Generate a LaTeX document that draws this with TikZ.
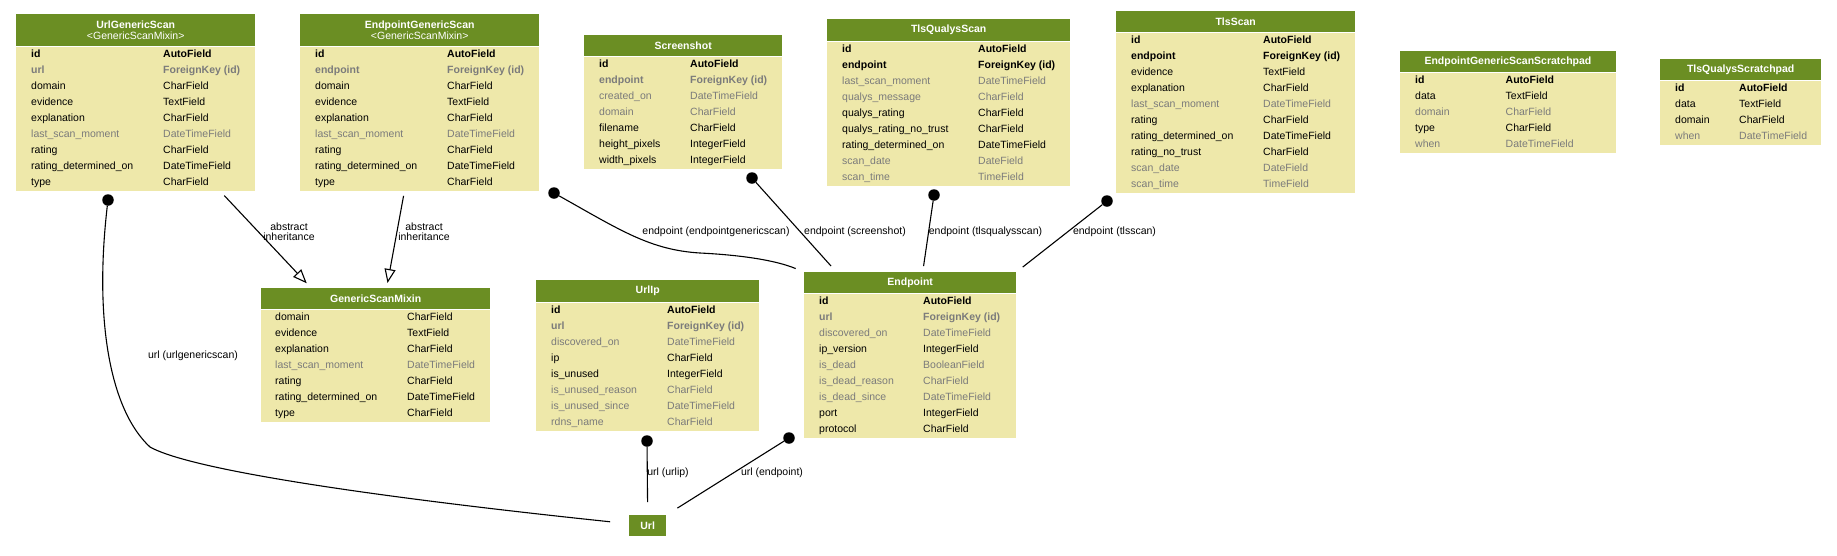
\documentclass[tikz,border=0pt]{standalone}
\usepackage{fontspec}
\setmainfont{Liberation Sans}
\usetikzlibrary{arrows.meta}
\definecolor{hdrgreen}{HTML}{6B8E23}
\definecolor{bodyyellow}{HTML}{EEE8AA}
\definecolor{fieldgrey}{HTML}{7B7B7B}
\begin{document}
\fontsize{10.5}{10.2}\selectfont
\begin{tikzpicture}[x=1pt,y=-1pt]
        \tikzstyle{hdr}=[anchor=north west,inner sep=0pt,fill=hdrgreen,text=white,font=\bfseries]
        \tikzstyle{tbl}=[anchor=north west,inner sep=0pt,fill=bodyyellow]
        \tikzstyle{fld}=[anchor=base west,inner sep=0pt]
        \tikzstyle{fnorm}=[fld]
        \tikzstyle{fbold}=[fld,font=\bfseries]
        \tikzstyle{fgrey}=[fld,text=fieldgrey]
        \tikzstyle{fboldgrey}=[fld,text=fieldgrey,font=\bfseries]
        \tikzstyle{dot}=[circle,fill=black,inner sep=0pt,minimum size=11.5pt]
        \tikzstyle{edge}=[draw,line width=1.1pt]
        \tikzstyle{inherit}=[draw,line width=1.1pt,-{Triangle[open,length=14pt,width=11pt]}]
        \tikzstyle{lbl}=[inner sep=0pt,align=center]
        \useasboundingbox[fill=white] (0,0) rectangle (1837,555);

        % UrlGenericScan
        \node[hdr,align=center,minimum width=239pt,minimum height=32pt] (urlgenericscan) at (16,14) {UrlGenericScan\\\mdseries<GenericScanMixin>};
        \node[tbl,minimum width=239pt,minimum height=144pt] (urlgenericscan-body) at (urlgenericscan.south west) {};
        \begin{scope}[shift={(urlgenericscan-body.north west)}]
          \foreach \f/\t/\s [count=\i from 0] in {id/AutoField/fbold, url/ForeignKey (id)/fboldgrey, domain/CharField/fnorm, evidence/TextField/fnorm, explanation/CharField/fnorm, last\_scan\_moment/DateTimeField/fgrey, rating/CharField/fnorm, rating\_determined\_on/DateTimeField/fnorm, type/CharField/fnorm}{
            \node[\s] (urlgenericscan-f\i) at (15,11.3+16*\i) {\f};
            \node[\s] (urlgenericscan-t\i) at (147,11.3+16*\i) {\t};
          }
        \end{scope}

        % EndpointGenericScan
        \node[hdr,align=center,minimum width=239pt,minimum height=32pt] (endpointgenericscan) at (300,14) {EndpointGenericScan\\\mdseries<GenericScanMixin>};
        \node[tbl,minimum width=239pt,minimum height=144pt] (endpointgenericscan-body) at (endpointgenericscan.south west) {};
        \begin{scope}[shift={(endpointgenericscan-body.north west)}]
          \foreach \f/\t/\s [count=\i from 0] in {id/AutoField/fbold, endpoint/ForeignKey (id)/fboldgrey, domain/CharField/fnorm, evidence/TextField/fnorm, explanation/CharField/fnorm, last\_scan\_moment/DateTimeField/fgrey, rating/CharField/fnorm, rating\_determined\_on/DateTimeField/fnorm, type/CharField/fnorm}{
            \node[\s] (endpointgenericscan-f\i) at (15,11.3+16*\i) {\f};
            \node[\s] (endpointgenericscan-t\i) at (147,11.3+16*\i) {\t};
          }
        \end{scope}

        % Screenshot
        \node[hdr,minimum width=198pt,minimum height=21pt] (screenshot) at (584,35) {Screenshot};
        \node[tbl,minimum width=198pt,minimum height=112pt] (screenshot-body) at (screenshot.south west) {};
        \begin{scope}[shift={(screenshot-body.north west)}]
          \foreach \f/\t/\s [count=\i from 0] in {id/AutoField/fbold, endpoint/ForeignKey (id)/fboldgrey, created\_on/DateTimeField/fgrey, domain/CharField/fgrey, filename/CharField/fnorm, height\_pixels/IntegerField/fnorm, width\_pixels/IntegerField/fnorm}{
            \node[\s] (screenshot-f\i) at (15,11.3+16*\i) {\f};
            \node[\s] (screenshot-t\i) at (106,11.3+16*\i) {\t};
          }
        \end{scope}

        % TlsQualysScan
        \node[hdr,minimum width=243pt,minimum height=22pt] (tlsqualysscan) at (827,19) {TlsQualysScan};
        \node[tbl,minimum width=243pt,minimum height=144pt] (tlsqualysscan-body) at (tlsqualysscan.south west) {};
        \begin{scope}[shift={(tlsqualysscan-body.north west)}]
          \foreach \f/\t/\s [count=\i from 0] in {id/AutoField/fbold, endpoint/ForeignKey (id)/fbold, last\_scan\_moment/DateTimeField/fgrey, qualys\_message/CharField/fgrey, qualys\_rating/CharField/fnorm, qualys\_rating\_no\_trust/CharField/fnorm, rating\_determined\_on/DateTimeField/fnorm, scan\_date/DateField/fgrey, scan\_time/TimeField/fgrey}{
            \node[\s] (tlsqualysscan-f\i) at (15,11.3+16*\i) {\f};
            \node[\s] (tlsqualysscan-t\i) at (151,11.3+16*\i) {\t};
          }
        \end{scope}

        % TlsScan
        \node[hdr,minimum width=239pt,minimum height=21pt] (tlsscan) at (1116,11) {TlsScan};
        \node[tbl,minimum width=239pt,minimum height=160pt] (tlsscan-body) at (tlsscan.south west) {};
        \begin{scope}[shift={(tlsscan-body.north west)}]
          \foreach \f/\t/\s [count=\i from 0] in {id/AutoField/fbold, endpoint/ForeignKey (id)/fbold, evidence/TextField/fnorm, explanation/CharField/fnorm, last\_scan\_moment/DateTimeField/fgrey, rating/CharField/fnorm, rating\_determined\_on/DateTimeField/fnorm, rating\_no\_trust/CharField/fnorm, scan\_date/DateField/fgrey, scan\_time/TimeField/fgrey}{
            \node[\s] (tlsscan-f\i) at (15,11.3+16*\i) {\f};
            \node[\s] (tlsscan-t\i) at (147,11.3+16*\i) {\t};
          }
        \end{scope}

        % EndpointGenericScanScratchpad
        \node[hdr,minimum width=215.5pt,minimum height=21pt] (scratchpad) at (1400,51) {EndpointGenericScanScratchpad};
        \node[tbl,minimum width=215.5pt,minimum height=80pt] (scratchpad-body) at (scratchpad.south west) {};
        \begin{scope}[shift={(scratchpad-body.north west)}]
          \foreach \f/\t/\s [count=\i from 0] in {id/AutoField/fbold, data/TextField/fnorm, domain/CharField/fgrey, type/CharField/fnorm, when/DateTimeField/fgrey}{
            \node[\s] (scratchpad-f\i) at (15,11.3+16*\i) {\f};
            \node[\s] (scratchpad-t\i) at (105.5,11.3+16*\i) {\t};
          }
        \end{scope}

        % TlsQualysScratchpad
        \node[hdr,minimum width=161pt,minimum height=21pt] (qualyspad) at (1660,59) {TlsQualysScratchpad};
        \node[tbl,minimum width=161pt,minimum height=64pt] (qualyspad-body) at (qualyspad.south west) {};
        \begin{scope}[shift={(qualyspad-body.north west)}]
          \foreach \f/\t/\s [count=\i from 0] in {id/AutoField/fbold, data/TextField/fnorm, domain/CharField/fnorm, when/DateTimeField/fgrey}{
            \node[\s] (qualyspad-f\i) at (15,11.3+16*\i) {\f};
            \node[\s] (qualyspad-t\i) at (79,11.3+16*\i) {\t};
          }
        \end{scope}

        % GenericScanMixin
        \node[hdr,minimum width=229pt,minimum height=21pt] (genericscanmixin) at (261,288) {GenericScanMixin};
        \node[tbl,minimum width=229pt,minimum height=112pt] (genericscanmixin-body) at (genericscanmixin.south west) {};
        \begin{scope}[shift={(genericscanmixin-body.north west)}]
          \foreach \f/\t/\s [count=\i from 0] in {domain/CharField/fnorm, evidence/TextField/fnorm, explanation/CharField/fnorm, last\_scan\_moment/DateTimeField/fgrey, rating/CharField/fnorm, rating\_determined\_on/DateTimeField/fnorm, type/CharField/fnorm}{
            \node[\s] (genericscanmixin-f\i) at (14,11.3+16*\i) {\f};
            \node[\s] (genericscanmixin-t\i) at (146,11.3+16*\i) {\t};
          }
        \end{scope}

        % UrlIp
        \node[hdr,minimum width=223pt,minimum height=22pt] (urlip) at (536,280) {UrlIp};
        \node[tbl,minimum width=223pt,minimum height=128pt] (urlip-body) at (urlip.south west) {};
        \begin{scope}[shift={(urlip-body.north west)}]
          \foreach \f/\t/\s [count=\i from 0] in {id/AutoField/fbold, url/ForeignKey (id)/fboldgrey, discovered\_on/DateTimeField/fgrey, ip/CharField/fnorm, is\_unused/IntegerField/fnorm, is\_unused\_reason/CharField/fgrey, is\_unused\_since/DateTimeField/fgrey, rdns\_name/CharField/fgrey}{
            \node[\s] (urlip-f\i) at (15,11.3+16*\i) {\f};
            \node[\s] (urlip-t\i) at (131,11.3+16*\i) {\t};
          }
        \end{scope}

        % Endpoint
        \node[hdr,minimum width=212pt,minimum height=21pt] (endpoint) at (804,272) {Endpoint};
        \node[tbl,minimum width=212pt,minimum height=144pt] (endpoint-body) at (endpoint.south west) {};
        \begin{scope}[shift={(endpoint-body.north west)}]
          \foreach \f/\t/\s [count=\i from 0] in {id/AutoField/fbold, url/ForeignKey (id)/fboldgrey, discovered\_on/DateTimeField/fgrey, ip\_version/IntegerField/fnorm, is\_dead/BooleanField/fgrey, is\_dead\_reason/CharField/fgrey, is\_dead\_since/DateTimeField/fgrey, port/IntegerField/fnorm, protocol/CharField/fnorm}{
            \node[\s] (endpoint-f\i) at (15,11.3+16*\i) {\f};
            \node[\s] (endpoint-t\i) at (119,11.3+16*\i) {\t};
          }
        \end{scope}

        % Url
        \node[hdr,minimum width=37pt,minimum height=21pt] (url) at (629,515) {Url};

        % tails
        \node[dot] (d-ugs) at (108,200) {};
        \node[dot] (d-egs) at (554,193) {};
        \node[dot] (d-shot) at (752,178) {};
        \node[dot] (d-tqs) at (934,195) {};
        \node[dot] (d-tls) at (1107,201) {};
        \node[dot] (d-urlip) at (647,441) {};
        \node[dot] (d-ep) at (789,438) {};

        \path[inherit,shorten <=6.5pt,shorten >=6.5pt] ([xshift=203.8pt]urlgenericscan-body.south west) -- ([xshift=50.2pt]genericscanmixin.north west);
        \path[inherit,shorten <=5.1pt,shorten >=5.1pt] ([xshift=104.5pt]endpointgenericscan-body.south west) -- ([xshift=125.6pt]genericscanmixin.north west);
        \path[edge,shorten >=19pt] (d-ugs) .. controls (94,320) and (110,410) .. (150,447) .. controls (200,475) and (450,505) .. (url);
        \path[edge,shorten >=9pt] (d-egs) .. controls (620,230) and (650,250) .. (700,253) .. controls (740,255) and (775,260) .. (endpoint.north west);
        \path[edge,shorten >=8pt] (d-shot) -- ([xshift=32.4pt]endpoint.north west);
        \path[edge,shorten >=6pt] (d-tqs) -- ([xshift=118.7pt]endpoint.north west);
        \path[edge,shorten >=8pt] (d-tls) -- (endpoint.north east);
        \path[edge,shorten >=13pt] (d-urlip) -- (url.north);
        \path[edge,shorten >=13pt] (d-ep) -- (url.north east);

        \node[lbl] (l-inh1) at (289,232) {abstract\\inheritance};
        \node[lbl] (l-inh2) at (424,232) {abstract\\inheritance};
        \node[lbl] (l-ugs) at (193,356) {url (urlgenericscan)};
        \node[lbl] (l-egs) at (716,232) {endpoint (endpointgenericscan)};
        \node[lbl] (l-shot) at (855,232) {endpoint (screenshot)};
        \node[lbl] (l-tqs) at (985.5,232) {endpoint (tlsqualysscan)};
        \node[lbl] (l-tls) at (1114.5,232) {endpoint (tlsscan)};
        \node[lbl] (l-urlip) at (668,473) {url (urlip)};
        \node[lbl] (l-ep) at (772,473) {url (endpoint)};
      \end{tikzpicture}
\end{document}
